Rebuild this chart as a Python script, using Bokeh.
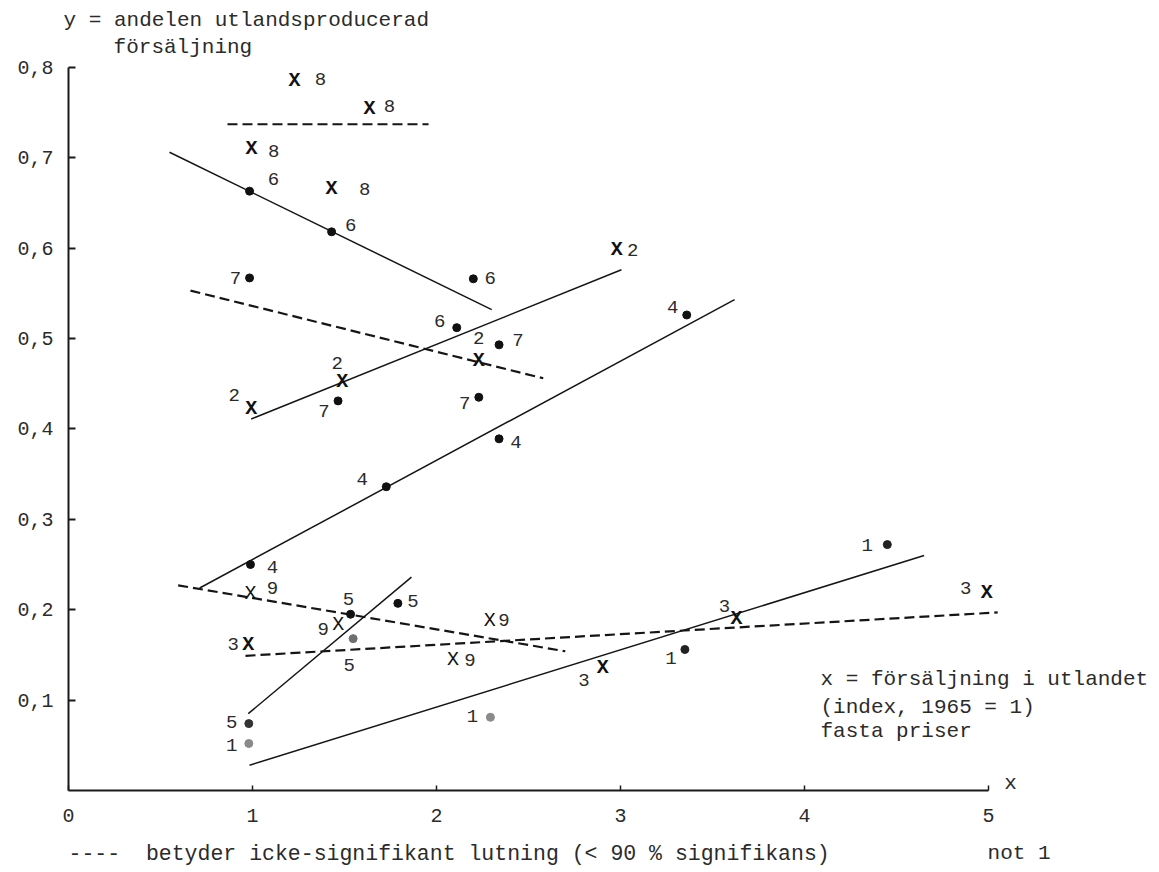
from bokeh.plotting import figure
from bokeh.models import Range1d, Label, ColumnDataSource, FixedTicker
from bokeh.core.properties import value
from bokeh.embed import file_html
from bokeh.resources import INLINE

# ---------------- data ----------------
# points drawn as dots (series 1, 4, 5, 6, 7)
dot_series = ["1", "1", "1", "1",
              "4", "4", "4", "4",
              "5", "5", "5", "5",
              "6", "6", "6", "6",
              "7", "7", "7", "7"]
dot_x = [0.98, 2.293, 3.35, 4.45,
         0.989, 1.727, 2.34, 3.36,
         1.533, 1.79, 1.547, 0.98,
         0.984, 1.43, 2.20, 2.11,
         0.984, 1.465, 2.34, 2.23]
dot_y = [0.052, 0.081, 0.156, 0.272,
         0.250, 0.336, 0.389, 0.526,
         0.195, 0.207, 0.168, 0.074,
         0.663, 0.618, 0.566, 0.512,
         0.567, 0.431, 0.493, 0.435]

# points drawn as crosses (series 2, 3, 8, 9)
cross_series = ["2", "2", "2", "2",
                "3", "3", "3", "3",
                "8", "8", "8", "8",
                "9", "9", "9", "9"]
cross_x = [0.993, 1.488, 2.23, 2.98,
           0.977, 2.904, 3.63, 4.99,
           1.228, 1.636, 0.995, 1.43,
           0.989, 1.466, 2.29, 2.09]
cross_y = [0.423, 0.452, 0.476, 0.598,
           0.162, 0.136, 0.190, 0.219,
           0.785, 0.754, 0.710, 0.666,
           0.218, 0.184, 0.188, 0.145]

# regression lines per series
line_series = ["1", "2", "3", "4", "5", "6", "7", "8", "9"]
line_x0 = [0.984, 0.993, 0.962, 0.713, 0.977, 0.549, 0.663, 0.864, 0.596]
line_y0 = [0.028, 0.411, 0.149, 0.224, 0.085, 0.706, 0.553, 0.737, 0.227]
line_x1 = [4.65, 3.005, 5.05, 3.62, 1.864, 2.30, 2.58, 1.957, 2.70]
line_y1 = [0.260, 0.576, 0.197, 0.543, 0.236, 0.532, 0.456, 0.737, 0.154]
significant = [True, True, False, True, True, True, False, False, False]

x_ticks = [0, 1, 2, 3, 4, 5]
y_ticks = [0.1, 0.2, 0.3, 0.4, 0.5, 0.6, 0.7, 0.8]
y_tick_labels = ["0,1", "0,2", "0,3", "0,4", "0,5", "0,6", "0,7", "0,8"]

# ---------------- styles (label placement, in screen px) ----------------
dot_dx = [-17, -18, -14, -20,
          22, -24, 17, -14,
          -2, 15, -4, -17,
          24, 19, 17, -17,
          -14, -14, 19, -14]
dot_dy = [2, -1, 9, 0,
          2, -8, 3, -8,
          -15, -2, 26, -2,
          -12, -7, -1, -7,
          0, 10, -5, 6]
dot_color = ["#8a8a8a", "#8a8a8a", "#222222", "#222222",
             "#111111", "#111111", "#111111", "#111111",
             "#111111", "#111111", "#6e6e6e", "#333333",
             "#111111", "#111111", "#111111", "#111111",
             "#111111", "#111111", "#111111", "#111111"]
cross_dx = [-17, -5, 0, 16,
            -15, -19, -12, -21,
            26, 20, 22, 33,
            22, -15, 14, 17]
cross_dy = [-13, -19, -22, 0,
            0, 12, -13, -5,
            -2, -3, 2, 1,
            -5, 5, -1, 1]
cross_weight = ["bold"] * 12 + ["normal"] * 4

FONT = "Liberation Mono"
TXT = "#2b2b2b"
NB = "\u00a0"

W, H = 1159, 872
X0PX, PXX = 68.0, 184.0     # x=0 at 68 px, 184 px per unit
Y0PX, PXY = 790.0, 904.0    # y=0 at 790 px, 904 px per unit

p = figure(width=W, height=H, title=None,
           x_range=Range1d(-X0PX / PXX, (W - X0PX) / PXX),
           y_range=Range1d((Y0PX - H) / PXY, Y0PX / PXY),
           output_backend="svg", toolbar_location=None,
           min_border_left=0, min_border_right=0,
           min_border_top=0, min_border_bottom=0)
p.outline_line_color = None
p.xgrid.visible = False
p.ygrid.visible = False
p.background_fill_color = "white"
p.border_fill_color = "white"

# axes (placed at the data origin)
xa = p.xaxis[0]
xa.fixed_location = 0
xa.ticker = FixedTicker(ticks=x_ticks)
xa.bounds = (0, 5)
xa.major_tick_in = 5
xa.major_tick_out = 0
xa.minor_tick_line_color = None
xa.axis_line_width = 1.8
xa.axis_line_color = "#1a1a1a"
xa.major_tick_line_width = 1.5
xa.major_tick_line_color = "#1a1a1a"
xa.major_label_standoff = 18
xa.major_label_text_font = FONT
xa.major_label_text_font_size = "20px"
xa.major_label_text_color = TXT

ya = p.yaxis[0]
ya.fixed_location = 0
ya.ticker = FixedTicker(ticks=y_ticks)
ya.major_label_overrides = {t: s for t, s in zip(y_ticks, y_tick_labels)}
ya.bounds = (0, 0.8)
ya.major_tick_in = 7
ya.major_tick_out = 0
ya.minor_tick_line_color = None
ya.axis_line_width = 2
ya.axis_line_color = "#1a1a1a"
ya.major_tick_line_width = 2
ya.major_tick_line_color = "#1a1a1a"
ya.major_label_standoff = 15
ya.major_label_text_font = FONT
ya.major_label_text_font_size = "20px"
ya.major_label_text_color = TXT

# regression lines
def pick(arr, flag):
    return [a for a, s in zip(arr, significant) if s == flag]

sol = ColumnDataSource(dict(x0=pick(line_x0, True), y0=pick(line_y0, True),
                            x1=pick(line_x1, True), y1=pick(line_y1, True)))
dsh = ColumnDataSource(dict(x0=pick(line_x0, False), y0=pick(line_y0, False),
                            x1=pick(line_x1, False), y1=pick(line_y1, False)))
p.segment("x0", "y0", "x1", "y1", source=sol, line_color="#151515", line_width=1.5)
p.segment("x0", "y0", "x1", "y1", source=dsh, line_color="#151515", line_width=2.2,
          line_dash="10 5")

# dots
dsrc = ColumnDataSource(dict(x=dot_x, y=dot_y, s=dot_series, dx=dot_dx, dy=dot_dy, c=dot_color))
p.scatter("x", "y", source=dsrc, size=8, marker="circle", fill_color="c", line_color="c")
p.text("x", "y", text="s", source=dsrc, x_offset="dx", y_offset="dy",
       text_font=value(FONT), text_font_size="19px", text_color=TXT,
       text_align="center", text_baseline="middle")

# crosses
csrc = ColumnDataSource(dict(x=cross_x, y=cross_y, s=cross_series, dx=cross_dx, dy=cross_dy,
                             wt=cross_weight, m=["X"] * len(cross_x)))
p.text("x", "y", text="m", source=csrc, text_font=value(FONT), text_font_size="20px",
       text_font_style={"field": "wt"}, text_color="#111111",
       text_align="center", text_baseline="middle")
p.text("x", "y", text="s", source=csrc, x_offset="dx", y_offset="dy",
       text_font=value(FONT), text_font_size="19px", text_color=TXT,
       text_align="center", text_baseline="middle")

# annotation texts
def lab(x, y, t, size="21px", **kw):
    p.add_layout(Label(x=x, y=y, text=t, text_font=FONT, text_font_size=size,
                       text_color=TXT, text_baseline="middle", **kw))

lab(-0.027, 0.852, "y = andelen utlandsproducerad")
lab(0.245, 0.822, "försäljning")
lab(4.087, 0.123, "x = försäljning i utlandet")
lab(4.087, 0.092, "(index, 1965 = 1)")
lab(4.087, 0.065, "fasta priser")
lab(5.12, 0.0077, "x", text_align="center")
lab(0.0, -0.0697, "----" + NB + NB + "betyder icke-signifikant lutning (< 90 % signifikans)",
    size="21.5px")
lab(4.995, -0.0697, "not 1")

open("out.html", "w").write(file_html(p, INLINE))
